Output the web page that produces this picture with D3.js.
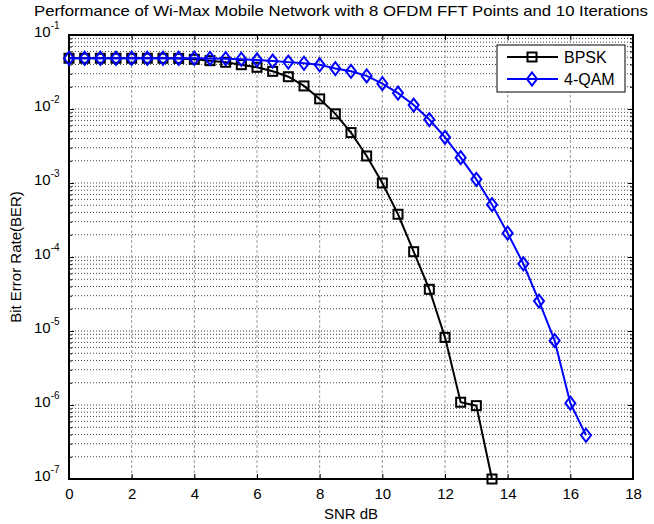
<!DOCTYPE html>
<html lang="en">
<head>
<meta charset="UTF-8">
<title>Wi-Max BER</title>
<script src="https://d3js.org/d3.v7.min.js"></script>
<style>
  body { margin: 0; background: #fff; }
  svg { font-family: Arial, "Liberation Sans", sans-serif; }
  .grid-minor line { stroke: #444; stroke-width: 1; stroke-dasharray: 1,2; }
  .grid-x line { stroke: #999; stroke-width: 1; stroke-dasharray: 3,2; }
  .axis path { display: none; }
  .axis line { stroke: #000; }
  .axis text { fill: #000; font-size: 15px; }
</style>
</head>
<body>
<svg width="654" height="524"></svg>
<script>
// SNR points (dB)
const snrBpsk = [0, 0.5, 1, 1.5, 2, 2.5, 3, 3.5, 4, 4.5, 5, 5.5, 6, 6.5, 7, 7.5, 8, 8.5, 9, 9.5,
                 10, 10.5, 11, 11.5, 12, 12.5, 13, 13.5];
const snrQam = [0, 0.5, 1, 1.5, 2, 2.5, 3, 3.5, 4, 4.5, 5, 5.5, 6, 6.5, 7, 7.5, 8, 8.5, 9, 9.5,
                10, 10.5, 11, 11.5, 12, 12.5, 13, 13.5, 14, 14.5, 15, 15.5, 16, 16.5];

// BER values
const berBpsk = [0.0485, 0.0485, 0.0485, 0.0485, 0.0485, 0.0485, 0.0485, 0.0483, 0.047, 0.045,
                 0.0428, 0.0397, 0.0366, 0.0323, 0.0273, 0.0205, 0.0137, 0.0086, 0.0048, 0.00232,
                 0.001, 0.000378, 0.000118, 3.66e-5, 8.2e-6, 1.09e-6, 9.8e-7, 1e-7];
const berQam = [0.0485, 0.0485, 0.0485, 0.0485, 0.0485, 0.0485, 0.0485, 0.0485, 0.0485, 0.0483,
                0.0478, 0.047, 0.046, 0.0445, 0.043, 0.0415, 0.0395, 0.0352, 0.0323, 0.028,
                0.022, 0.0164, 0.0113, 0.0072, 0.00414, 0.0022, 0.00112, 0.00051, 0.00021, 8.1e-5,
                2.54e-5, 7.4e-6, 1.06e-6, 3.9e-7];

const xTicks = [0, 2, 4, 6, 8, 10, 12, 14, 16, 18];
const yExponents = [-1, -2, -3, -4, -5, -6, -7];
const seriesNames = ["BPSK", "4-QAM"];
const titleText = "Performance of Wi-Max Mobile Network with 8 OFDM FFT Points and 10 Iterations";

const margin = {top: 35, right: 21, bottom: 45, left: 69};
const width = 654 - margin.left - margin.right;
const height = 524 - margin.top - margin.bottom;

const svg = d3.select("svg");
const g = svg.append("g").attr("transform", `translate(${margin.left},${margin.top})`);

const x = d3.scaleLinear().domain([0, 18]).range([0, width]);
const y = d3.scaleLog().domain([1e-7, 1e-1]).range([height, 0]);

// log values 1..9 in every decade, for grid lines and small ticks
const minorVals = [];
yExponents.slice(0, -1).forEach(e => {
    for (let m = 1; m <= 9; m++) minorVals.push(m * Math.pow(10, e - 1));
});
const yMajor = yExponents.map(e => Math.pow(10, e));
const yMinor = minorVals.filter(v => v > 1e-7 && !yMajor.includes(v));

// horizontal grid
g.append("g").attr("class", "grid-minor")
    .selectAll("line").data(minorVals.filter(v => v > 1e-7)).join("line")
    .attr("x1", 0).attr("x2", width)
    .attr("y1", d => y(d)).attr("y2", d => y(d));

// vertical grid
g.append("g").attr("class", "grid-x")
    .selectAll("line").data(xTicks.slice(1, -1)).join("line")
    .attr("x1", d => x(d)).attr("x2", d => x(d))
    .attr("y1", 0).attr("y2", height);

// axes, ticks pointing inward on all four sides
g.append("g").attr("class", "axis")
    .attr("transform", `translate(0,${height})`)
    .call(d3.axisBottom(x).tickValues(xTicks).tickSize(-5).tickPadding(9).tickFormat(d3.format("d")));
g.append("g").attr("class", "axis")
    .call(d3.axisTop(x).tickValues(xTicks).tickSize(-5).tickFormat(""));

const yLeft = g.append("g").attr("class", "axis")
    .call(d3.axisLeft(y).tickValues(yMajor).tickSize(-5).tickFormat(""));
g.append("g").attr("class", "axis")
    .attr("transform", `translate(${width},0)`)
    .call(d3.axisRight(y).tickValues(yMajor).tickSize(-5).tickFormat(""));
g.append("g").attr("class", "axis")
    .call(d3.axisLeft(y).tickValues(yMinor).tickSize(-3).tickFormat(""));
g.append("g").attr("class", "axis")
    .attr("transform", `translate(${width},0)`)
    .call(d3.axisRight(y).tickValues(yMinor).tickSize(-3).tickFormat(""));

// y tick labels as 10^n
yLeft.selectAll(".tick").each(function(d) {
    const t = d3.select(this).append("text")
        .attr("x", -35).attr("y", 1)
        .attr("text-anchor", "start")
        .style("font-size", "15px");
    t.append("tspan").text("10");
    t.append("tspan").attr("dy", -8).style("font-size", "10px").text(Math.round(Math.log10(d)));
});

// frame
g.append("rect").attr("width", width).attr("height", height)
    .attr("fill", "none").attr("stroke", "#000").attr("stroke-width", 2);

// series
const colors = ["#000000", "#0000ff"];
const bpsk = snrBpsk.map((s, i) => ({snr: s, ber: berBpsk[i]}));
const qam = snrQam.map((s, i) => ({snr: s, ber: berQam[i]}));
const line = d3.line().x(d => x(d.snr)).y(d => y(d.ber));

const diamond = "M0,-6.5L5,0L0,6.5L-5,0Z";

g.append("path").datum(bpsk).attr("d", line)
    .attr("fill", "none").attr("stroke", colors[0]).attr("stroke-width", 2);
g.append("g").selectAll("rect").data(bpsk).join("rect")
    .attr("x", d => x(d.snr) - 4.5).attr("y", d => y(d.ber) - 4.5)
    .attr("width", 9).attr("height", 9)
    .attr("fill", "none").attr("stroke", colors[0]).attr("stroke-width", 2);

g.append("path").datum(qam).attr("d", line)
    .attr("fill", "none").attr("stroke", colors[1]).attr("stroke-width", 2);
g.append("g").selectAll("path").data(qam).join("path")
    .attr("transform", d => `translate(${x(d.snr)},${y(d.ber)})`)
    .attr("d", diamond)
    .attr("fill", "none").attr("stroke", colors[1]).attr("stroke-width", 2);

// legend
const legend = svg.append("g").attr("transform", "translate(497,45)");
legend.append("rect").attr("width", 128).attr("height", 47)
    .attr("fill", "#fff").attr("stroke", "#000").attr("stroke-width", 1);
seriesNames.forEach((name, i) => {
    const row = legend.append("g").attr("transform", `translate(0,${12 + i * 22})`);
    row.append("line").attr("x1", 10).attr("x2", 61)
        .attr("stroke", colors[i]).attr("stroke-width", 2);
    if (i === 0) {
        row.append("rect").attr("x", 30.5).attr("y", -4.5).attr("width", 9).attr("height", 9)
            .attr("fill", "none").attr("stroke", colors[i]).attr("stroke-width", 2);
    } else {
        row.append("path").attr("transform", "translate(35,0)").attr("d", diamond)
            .attr("fill", "none").attr("stroke", colors[i]).attr("stroke-width", 2);
    }
    row.append("text").attr("x", 67).attr("y", 6).style("font-size", "16px").text(name);
});

// title and axis labels
svg.append("text").attr("x", 34).attr("y", 16)
    .attr("textLength", 614).attr("lengthAdjust", "spacingAndGlyphs")
    .style("font-size", "14.5px").text(titleText);
svg.append("text").attr("x", margin.left + width / 2).attr("y", 519)
    .attr("text-anchor", "middle").style("font-size", "15px").text("SNR dB");
svg.append("text").attr("transform", `translate(21,${margin.top + height / 2}) rotate(-90)`)
    .attr("text-anchor", "middle").style("font-size", "15px").text("Bit Error Rate(BER)");
</script>
</body>
</html>
